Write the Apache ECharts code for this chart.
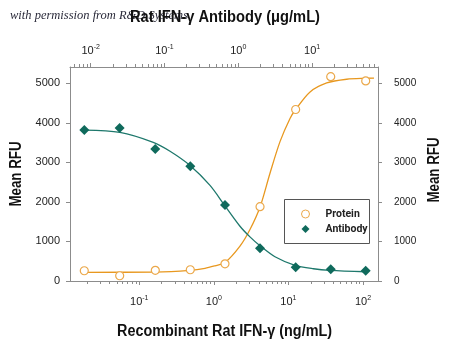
<!DOCTYPE html>
<html>
<head>
<meta charset="utf-8">
<script src="https://cdn.jsdelivr.net/npm/echarts@6/dist/echarts.min.js"></script>
<style>html,body{margin:0;padding:0;background:#fff}#c{width:450px;height:347px}</style>
</head>
<body>
<div id="c"></div>
<script>
// Recombinant Rat IFN-gamma (ng/mL) and response
var proteinConc = [0.0183, 0.0546, 0.164, 0.483, 1.41, 4.16, 12.5, 36.9, 108.7];
var proteinRFU  = [259, 133, 269, 284, 435, 1880, 4336, 5166, 5058];
// Rat IFN-gamma antibody (ug/mL) and response
var antibodyConc = [0.0082, 0.0247, 0.075, 0.224, 0.661, 1.97, 6.0, 17.9, 53.2];
var antibodyRFU  = [3817, 3868, 3339, 2901, 1920, 830, 345, 294, 259];
// fitted curves
var proteinFitConc = [0.0181, 0.162, 0.479, 0.760, 1.035, 1.41, 2.24, 3.05, 4.16, 5.66, 7.71, 10.5, 12.5, 19.5, 32.6, 60.4, 108.7, 140.6];
var proteinFitRFU  = [219, 226, 269, 320, 385, 465, 880, 1300, 1870, 2725, 3523, 4110, 4336, 4780, 5007, 5100, 5125, 5128];
var antibodyFitConc = [0.0082, 0.0249, 0.0705, 0.119, 0.222, 0.414, 0.660, 1.054, 1.44, 1.97, 3.14, 5.87, 10.4, 17.5, 53.2];
var antibodyFitRFU  = [3815, 3757, 3505, 3279, 2919, 2416, 1900, 1384, 1115, 890, 612, 395, 310, 269, 234];
// axes
var bottomMajor = [-1, 0, 1, 2];
var topMajor = [-2, -1, 0, 1];
var yTicks = [0, 1000, 2000, 3000, 4000, 5000];
var bottomRange = [-1.929, 2.201];
var topRange = [-2.28, 1.893];
// texts
var xTitle = 'Recombinant Rat IFN-γ (ng/mL)';
var x2Title = 'Rat IFN-γ Antibody (μg/mL)';
var yTitle = 'Mean RFU';
var credit = 'with permission from R&D Systems';
var seriesNames = ['Protein', 'Antibody'];

function lg(v){ return Math.log10(v); }
function pairs(xs, ys){ return xs.map(function(x,i){ return [lg(x), ys[i]]; }); }
function minors(range){
  var out = [];
  for (var e = Math.floor(range[0]); e <= Math.ceil(range[1]); e++) {
    for (var k = 2; k <= 9; k++) {
      var v = e + Math.log10(k);
      if (v >= range[0] && v <= range[1]) out.push(v);
    }
  }
  return out;
}
var SANS = "'Liberation Sans', Arial, sans-serif";
var TITLE_FONT = "bold 16px 'Liberation Sans', Arial, sans-serif";
var AXC = '#8c8c8c';
var TXT = '#222';
var ORANGE = '#E8981F', ORANGE_PT = '#EBA84A', TEAL = '#1E786C', TEAL_PT = '#0F6A5C';

var mctx = document.createElement('canvas').getContext('2d');
function squeeze(text, font, targetW){ mctx.font = font; return targetW / mctx.measureText(text).width; }

function expLabel(v){ return '{b|10}{s|' + Math.round(v) + '}'; }
var rich = {
  b: {fontSize: 11, fontFamily: SANS, color: TXT, lineHeight: 14},
  s: {fontSize: 7, fontFamily: SANS, color: TXT, lineHeight: 7, verticalAlign: 'top'}
};

function xAx(pos, range, major){
  return {
    type: 'value', position: pos, min: range[0], max: range[1],
    axisLine: {show: true, onZero: false, lineStyle: {color: AXC, width: 1}},
    splitLine: {show: false},
    axisTick: {show: true, inside: false, length: 4, lineStyle: {color: AXC}, customValues: major},
    axisLabel: {show: true, customValues: major, formatter: expLabel, rich: rich, margin: pos === 'bottom' ? 14 : 9}
  };
}
function xMinor(pos, range){
  return {
    type: 'value', position: pos, min: range[0], max: range[1],
    axisLine: {show: false, onZero: false}, splitLine: {show: false}, axisLabel: {show: false},
    axisTick: {show: true, length: 3, lineStyle: {color: AXC}, customValues: minors(range)}
  };
}
function yAx(pos, fs, margin){
  return {
    type: 'value', position: pos, min: 0, max: 5410,
    axisLine: {show: true, onZero: false, lineStyle: {color: AXC}},
    splitLine: {show: false},
    axisTick: {show: true, length: 4, lineStyle: {color: AXC}, customValues: yTicks},
    axisLabel: {customValues: yTicks, formatter: function(v){ return String(v); },
                fontFamily: SANS, fontSize: fs, color: TXT, margin: margin}
  };
}

var chart = echarts.init(document.getElementById('c'), null, {renderer: 'canvas'});
chart.setOption({
  animation: false,
  backgroundColor: '#fff',
  grid: {left: 70, right: 72, top: 67, bottom: 66, outerBoundsMode: 'none', containLabel: false},
  graphic: [
    {type: 'text', x: 10, y: 16, z: -10,
     style: {text: credit, font: "italic 12.5px 'Liberation Serif', serif", fill: '#2a2a3a', textVerticalAlign: 'middle'}},
    {type: 'text', x: 225, y: 18, z: 10, scaleX: squeeze(x2Title, TITLE_FONT, 190),
     style: {text: x2Title, font: TITLE_FONT, fill: '#111', textAlign: 'center', textVerticalAlign: 'middle'}},
    {type: 'text', x: 224.5, y: 332, z: 10, scaleX: squeeze(xTitle, TITLE_FONT, 215),
     style: {text: xTitle, font: TITLE_FONT, fill: '#111', textAlign: 'center', textVerticalAlign: 'middle'}},
    {type: 'text', x: 17, y: 174, z: 10, rotation: Math.PI / 2, scaleX: squeeze(yTitle, TITLE_FONT, 65),
     style: {text: yTitle, font: TITLE_FONT, fill: '#111', textAlign: 'center', textVerticalAlign: 'middle'}},
    {type: 'text', x: 435, y: 170, z: 10, rotation: Math.PI / 2, scaleX: squeeze(yTitle, TITLE_FONT, 65),
     style: {text: yTitle, font: TITLE_FONT, fill: '#111', textAlign: 'center', textVerticalAlign: 'middle'}},
    {type: 'rect', shape: {x: 284.5, y: 199.5, width: 85, height: 44}, z: 5,
     style: {fill: '#fff', stroke: '#555', lineWidth: 1}}
  ],
  xAxis: [
    xAx('bottom', bottomRange, bottomMajor),
    xAx('top', topRange, topMajor),
    xMinor('bottom', bottomRange),
    xMinor('top', topRange)
  ],
  yAxis: [yAx('left', 11, 10), yAx('right', 10, 16)],
  legend: {
    left: 301, top: 207, orient: 'vertical', z: 10,
    padding: 0, itemWidth: 8, itemHeight: 8, itemGap: 1, symbolKeepAspect: true,
    textStyle: {fontFamily: "Roboto, 'Liberation Sans', sans-serif", fontSize: 10.5, fontWeight: 'bold', color: TXT, lineHeight: 14, padding: [0, 0, 0, 11]},
    data: [
      {name: seriesNames[0], icon: 'circle', itemStyle: {color: '#fff', borderColor: ORANGE_PT, borderWidth: 1}},
      {name: seriesNames[1], icon: 'path://M0,-1L1,0L0,1L-1,0Z', itemStyle: {color: TEAL_PT}}
    ]
  },
  series: [
    {name: 'Protein fit', type: 'line', xAxisIndex: 0, yAxisIndex: 0, data: pairs(proteinFitConc, proteinFitRFU),
     smooth: 0.3, showSymbol: false, symbol: 'none', lineStyle: {color: ORANGE, width: 1.3}, z: 2},
    {name: 'Antibody fit', type: 'line', xAxisIndex: 1, yAxisIndex: 0, data: pairs(antibodyFitConc, antibodyFitRFU),
     smooth: 0.3, showSymbol: false, symbol: 'none', lineStyle: {color: TEAL, width: 1.3}, z: 2},
    {name: seriesNames[0], type: 'scatter', xAxisIndex: 0, yAxisIndex: 0, data: pairs(proteinConc, proteinRFU),
     symbol: 'circle', symbolSize: 8, itemStyle: {color: '#fff', borderColor: ORANGE_PT, borderWidth: 1.2, opacity: 1}, z: 3},
    {name: seriesNames[1], type: 'scatter', xAxisIndex: 1, yAxisIndex: 0, data: pairs(antibodyConc, antibodyRFU),
     symbol: 'diamond', symbolSize: 10, itemStyle: {color: TEAL_PT, opacity: 1}, z: 4}
  ]
});
</script>
</body>
</html>
